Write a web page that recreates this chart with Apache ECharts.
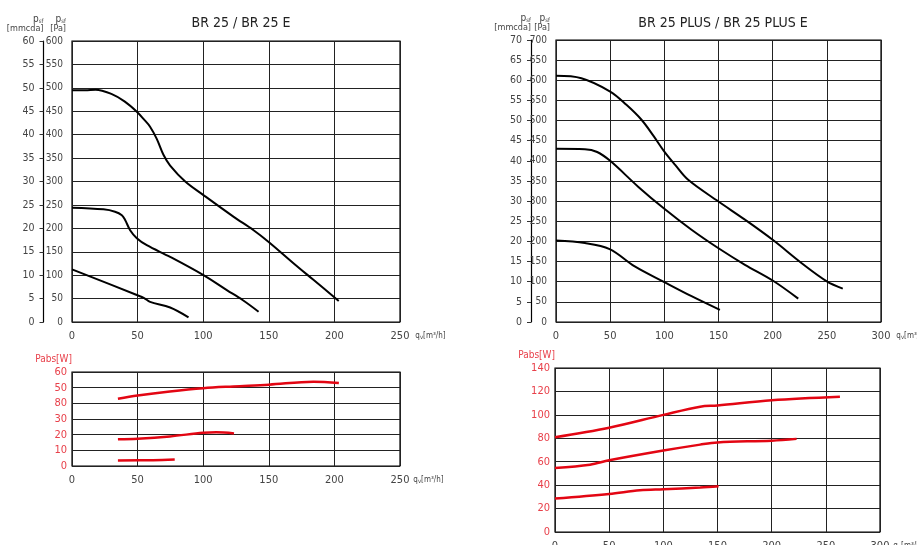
<!DOCTYPE html>
<html>
<head>
<meta charset="utf-8">
<script src="https://cdn.jsdelivr.net/npm/echarts/dist/echarts.min.js"></script>
<style>
  html, body { margin: 0; padding: 0; background: #fff; }
  #chart { width: 917px; height: 545px; }
</style>
</head>
<body>
<div id="chart"></div>
<script>
// BR 25 / BR 25 E - pressure curves (q [m3/h], p [Pa])
var br25HighQ = [0, 10, 18, 30, 40, 49.4, 55, 59.5, 64.6, 69.7, 74.8, 86.3, 100.2, 123, 138.4, 149.9, 169, 184, 203.3];
var br25HighP = [495, 495, 496, 487, 471, 449, 432, 417, 391, 357, 334, 300, 271, 225, 196, 171, 125, 90, 45];
var br25MidQ = [0, 24, 32.8, 38, 40.5, 44.3, 49.4, 57, 74.8, 100.2, 118, 130, 142.2];
var br25MidP = [244, 240.5, 235.5, 228, 218, 196, 179, 164, 139, 100, 68, 47, 22];
var br25LowQ = [0, 49.4, 55, 59.5, 74.8, 88.8];
var br25LowP = [112.5, 57.6, 51, 43, 31, 10];

// BR 25 PLUS / BR 25 PLUS E - pressure curves
var plusHighQ = [0, 23.4, 50, 65, 78.9, 90, 100, 110, 122, 150, 174.4, 200, 226.8, 250, 264.7];
var plusHighP = [611, 605, 572, 539, 502, 462, 423, 390, 353, 299, 254, 204, 146, 101, 83];
var plusMidQ = [0, 26.7, 38, 50, 75.8, 100, 125.1, 150, 174.4, 200, 223.6];
var plusMidP = [430, 429, 422, 400, 336, 281, 229, 183, 142, 103, 58];
var plusLowQ = [0, 26.7, 49.5, 72.7, 100, 125.1, 151.3];
var plusLowP = [202, 196, 181, 138, 99, 64, 30];

// absorbed power [W]
var br25PowHighQ = [35, 50, 74.6, 100, 123, 150, 184, 203.4];
var br25PowHigh = [42.9, 45, 47.6, 49.7, 50.8, 51.9, 53.8, 53];
var br25PowMidQ = [35, 50, 74.6, 100, 110, 123.5];
var br25PowMid = [17, 17.4, 18.9, 21.2, 21.5, 20.8];
var br25PowLowQ = [35, 61.8, 78.3];
var br25PowLow = [3.5, 3.7, 4.1];

var plusPowHighQ = [0, 50, 100, 134, 150, 200, 263];
var plusPowHigh = [80.9, 89, 100, 107, 108, 112.5, 115.5];
var plusPowMidQ = [0, 32.3, 50, 100, 134, 150, 200, 223];
var plusPowMid = [54.7, 57.5, 61.2, 69.5, 74.6, 76.5, 78, 79.5];
var plusPowLowQ = [0, 50, 78.4, 100, 134, 151];
var plusPowLow = [28.5, 32.5, 35.6, 36.5, 37.9, 39];

// tick labels of the left power axis as printed (the 40 reads "80" in the original)
var br25PowTicks = ['0', '10', '20', '30', '80', '50', '60'];

var FONT = "'DejaVu Sans Condensed', 'Liberation Sans Narrow', sans-serif";
var TXT = '#444';
var RED = '#e30613';
var LABEL_RED = '#e8404a';

function zip(xs, ys) {
    return xs.map(function (x, i) { return [x, ys[i]]; });
}

function curve(name, xi, yi, xs, ys, color, width) {
    return {
        name: name,
        type: 'line',
        xAxisIndex: xi,
        yAxisIndex: yi,
        data: zip(xs, ys),
        smooth: 0.35,
        symbol: 'none',
        lineStyle: { color: color, width: width },
        silent: true
    };
}

function xAxis(grid, max, unitName) {
    return {
        type: 'value',
        gridIndex: grid,
        min: 0,
        max: max,
        interval: 50,
        axisLine: { show: false },
        axisTick: { show: false },
        splitLine: { show: true, lineStyle: { color: '#222', width: 1 } },
        axisLabel: { color: TXT, fontFamily: FONT, fontSize: 11, margin: 9 },
        name: unitName,
        nameLocation: 'end',
        nameGap: 8,
        nameTextStyle: {
            align: 'left', verticalAlign: 'top', padding: [10, 0, 0, 0],
            color: TXT, fontFamily: FONT, fontSize: 8,
            rich: { s: { fontSize: 6, color: TXT, fontFamily: FONT, verticalAlign: 'bottom' } }
        }
    };
}

function pressureName(unit) {
    return '{p|p}{s|sf}\n{u|' + unit + '}';
}

var nameRich = {
    p: { fontSize: 10, color: TXT, fontFamily: FONT },
    s: { fontSize: 6, color: TXT, fontFamily: FONT, verticalAlign: 'bottom' },
    u: { fontSize: 9, color: TXT, fontFamily: FONT, align: 'right' }
};

function paAxis(grid, max) {
    return {
        type: 'value', gridIndex: grid, position: 'left',
        min: 0, max: max, interval: 50,
        axisLine: { show: false },
        axisTick: { show: false },
        splitLine: { show: true, lineStyle: { color: '#222', width: 1 } },
        axisLabel: { color: TXT, fontFamily: FONT, fontSize: 10, margin: 9 },
        name: pressureName('[Pa]'),
        nameLocation: 'end', nameGap: 8,
        nameTextStyle: { align: 'right', verticalAlign: 'bottom', padding: [0, 6, 0, 0], rich: nameRich }
    };
}

function mmAxis(grid, max, offset) {
    return {
        type: 'value', gridIndex: grid, position: 'left', offset: offset,
        min: 0, max: max, interval: 5,
        axisLine: { show: true, lineStyle: { color: '#000', width: 1.2 } },
        axisTick: { show: true, length: 4, lineStyle: { color: '#333' } },
        splitLine: { show: false },
        axisLabel: { color: TXT, fontFamily: FONT, fontSize: 10.5, margin: 9 },
        name: pressureName('[mmcda]'),
        nameLocation: 'end', nameGap: 8,
        nameTextStyle: { align: 'right', verticalAlign: 'bottom', padding: [0, 0, 0, 0], rich: nameRich }
    };
}

function powerAxis(grid, max, interval, formatter) {
    return {
        type: 'value', gridIndex: grid, position: 'left',
        min: 0, max: max, interval: interval,
        axisLine: { show: false },
        axisTick: { show: false },
        splitLine: { show: true, lineStyle: { color: '#222', width: 1 } },
        axisLabel: { color: LABEL_RED, fontFamily: FONT, fontSize: 11, margin: 5, formatter: formatter },
        name: 'Pabs[W]',
        nameLocation: 'end', nameGap: 8,
        nameTextStyle: { align: 'right', verticalAlign: 'bottom', color: LABEL_RED, fontFamily: FONT, fontSize: 10 }
    };
}

var unitQ = 'q{s|v}[m³/h]';

function grid(left, top, width, height) {
    return {
        left: left, top: top, width: width, height: height,
        show: true, borderColor: '#000', borderWidth: 1.2, backgroundColor: 'transparent',
        containLabel: false, outerBoundsMode: 'none'
    };
}

var option = {
    animation: false,
    backgroundColor: '#fff',
    title: [
        { text: 'BR 25 / BR 25 E', left: 236, top: 11, textAlign: 'center',
          textStyle: { fontFamily: FONT, fontSize: 14, fontWeight: 'normal', color: '#222' } },
        { text: 'BR 25 PLUS / BR 25 PLUS E', left: 718, top: 11, textAlign: 'center',
          textStyle: { fontFamily: FONT, fontSize: 14, fontWeight: 'normal', color: '#222' } }
    ],
    grid: [
        grid(72, 41, 328, 281),
        grid(72, 372, 328, 94),
        grid(556, 40, 325, 282),
        grid(555, 368, 325, 164)
    ],
    xAxis: [
        xAxis(0, 250, unitQ),
        xAxis(1, 250, unitQ),
        xAxis(2, 300, unitQ),
        xAxis(3, 300, unitQ)
    ],
    yAxis: [
        paAxis(0, 600),
        mmAxis(0, 60, 28.5),
        powerAxis(1, 60, 10, function (v) { return br25PowTicks[Math.round(v / 10)]; }),
        paAxis(2, 700),
        mmAxis(2, 70, 25),
        powerAxis(3, 140, 20)
    ],
    series: [
        curve('br25 high', 0, 0, br25HighQ, br25HighP, '#000', 2),
        curve('br25 mid', 0, 0, br25MidQ, br25MidP, '#000', 2),
        curve('br25 low', 0, 0, br25LowQ, br25LowP, '#000', 2),
        curve('br25 pow high', 1, 2, br25PowHighQ, br25PowHigh, RED, 2.5),
        curve('br25 pow mid', 1, 2, br25PowMidQ, br25PowMid, RED, 2.5),
        curve('br25 pow low', 1, 2, br25PowLowQ, br25PowLow, RED, 2.5),
        curve('plus high', 2, 3, plusHighQ, plusHighP, '#000', 2),
        curve('plus mid', 2, 3, plusMidQ, plusMidP, '#000', 2),
        curve('plus low', 2, 3, plusLowQ, plusLowP, '#000', 2),
        curve('plus pow high', 3, 5, plusPowHighQ, plusPowHigh, RED, 2.5),
        curve('plus pow mid', 3, 5, plusPowMidQ, plusPowMid, RED, 2.5),
        curve('plus pow low', 3, 5, plusPowLowQ, plusPowLow, RED, 2.5)
    ]
};

var myChart = echarts.init(document.getElementById('chart'), null, { renderer: 'canvas' });
myChart.setOption(option);
</script>
</body>
</html>
